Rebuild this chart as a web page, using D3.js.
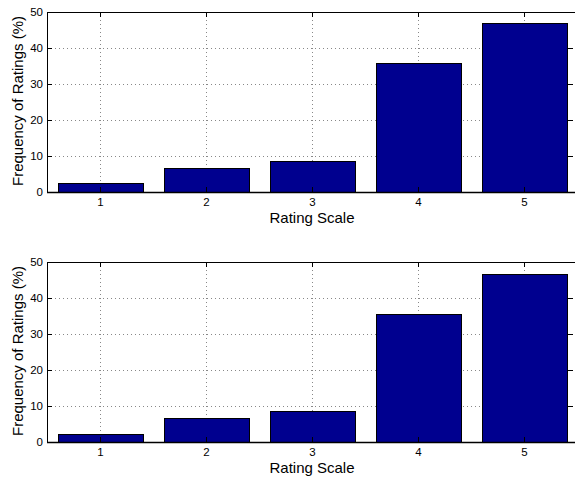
<!DOCTYPE html>
<html>
<head>
<meta charset="utf-8">
<script src="https://cdn.jsdelivr.net/npm/d3@7"></script>
<style>
  body { margin: 0; background: #fff; }
  svg { display: block; font-family: "Liberation Sans", Arial, sans-serif; }
</style>
</head>
<body>
<svg id="chart" width="575" height="479"></svg>
<script>
const ratings = [1, 2, 3, 4, 5];
const topValues = [2.4, 6.7, 8.6, 35.7, 46.9];
const bottomValues = [2.3, 6.7, 8.7, 35.6, 46.7];
const yTicks = [0, 10, 20, 30, 40, 50];

const panels = [
  { values: topValues, top: 12, bottom: 192 },
  { values: bottomValues, top: 262, bottom: 442 },
];

const left = 47;
const right = 577;
const svg = d3.select('#chart');

const xScale = d3.scaleLinear().domain([0.5, 5.5]).range([left, right]);
const barWidth = (xScale(1) - xScale(0)) * 0.8;

panels.forEach(({ values, top, bottom }) => {
  const yScale = d3.scaleLinear().domain([0, 50]).range([bottom, top]);
  const g = svg.append('g');

  // dotted grid
  g.append('g')
    .selectAll('line')
    .data(yTicks.slice(1, -1))
    .join('line')
    .attr('x1', left)
    .attr('x2', right)
    .attr('y1', d => Math.round(yScale(d)) + 0.5)
    .attr('y2', d => Math.round(yScale(d)) + 0.5)
    .attr('stroke', '#888')
    .attr('stroke-dasharray', '1,3');

  g.append('g')
    .selectAll('line')
    .data(ratings)
    .join('line')
    .attr('x1', d => Math.round(xScale(d)) + 0.5)
    .attr('x2', d => Math.round(xScale(d)) + 0.5)
    .attr('y1', top)
    .attr('y2', bottom)
    .attr('stroke', '#888')
    .attr('stroke-dasharray', '1,3');

  // bars
  g.append('g')
    .selectAll('rect')
    .data(values)
    .join('rect')
    .attr('x', (d, i) => Math.round(xScale(ratings[i]) - barWidth / 2) + 0.5)
    .attr('y', d => Math.round(yScale(d)) + 0.5)
    .attr('width', Math.round(barWidth))
    .attr('height', d => Math.round(yScale(0)) - Math.round(yScale(d)))
    .attr('fill', '#00008f')
    .attr('stroke', '#000')
    .attr('stroke-width', 1);

  // tick marks on all four sides, pointing inward
  const ticks = g.append('g').attr('stroke', '#000');
  ratings.forEach(d => {
    const x = Math.round(xScale(d)) + 0.5;
    ticks.append('line').attr('x1', x).attr('x2', x).attr('y1', top).attr('y2', top + 5);
    ticks.append('line').attr('x1', x).attr('x2', x).attr('y1', bottom).attr('y2', bottom - 5);
  });
  yTicks.forEach(d => {
    const y = Math.round(yScale(d)) + 0.5;
    ticks.append('line').attr('x1', left).attr('x2', left + 5).attr('y1', y).attr('y2', y);
    ticks.append('line').attr('x1', right - 9).attr('x2', right - 4).attr('y1', y).attr('y2', y);
  });

  // frame
  g.append('rect')
    .attr('x', left + 0.5)
    .attr('y', top + 0.5)
    .attr('width', right - left)
    .attr('height', bottom - top)
    .attr('fill', 'none')
    .attr('stroke', '#000')
    .attr('stroke-width', 1);
  g.append('line')
    .attr('x1', left)
    .attr('x2', right)
    .attr('y1', bottom + 0.5)
    .attr('y2', bottom + 0.5)
    .attr('stroke', '#000')
    .attr('stroke-width', 1.5);

  // axes labels
  const yAxis = d3.axisLeft(yScale).tickValues(yTicks).tickSize(0).tickPadding(4).tickFormat(d3.format('d'));
  const yAxisGroup = g.append('g').attr('transform', `translate(${left},0)`).call(yAxis);
  const xAxis = d3.axisBottom(xScale).tickValues(ratings).tickSize(0).tickPadding(6).tickFormat(d3.format('d'));
  const xAxisGroup = g.append('g').attr('transform', `translate(0,${bottom})`).call(xAxis);
  [yAxisGroup, xAxisGroup].forEach(a => {
    a.select('.domain').remove();
    a.selectAll('text').attr('font-size', 11.5).attr('fill', '#000')
      .attr('font-family', '"Liberation Sans", Arial, sans-serif');
  });

  g.append('text')
    .attr('x', 312)
    .attr('y', bottom + 31)
    .attr('text-anchor', 'middle')
    .attr('font-size', 15)
    .text('Rating Scale');

  g.append('text')
    .attr('transform', `translate(23,${(top + bottom) / 2 - 1}) rotate(-90)`)
    .attr('text-anchor', 'middle')
    .attr('font-size', 15)
    .text('Frequency of Ratings (%)');
});
</script>
</body>
</html>
